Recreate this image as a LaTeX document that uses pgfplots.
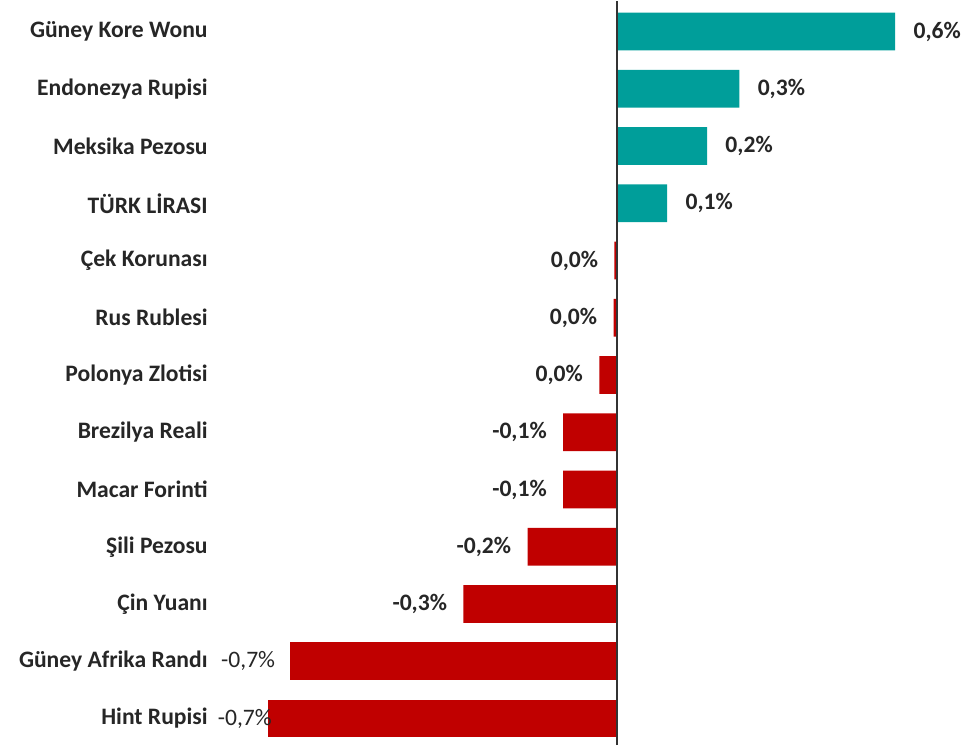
\documentclass[border=0pt]{standalone}
\usepackage{pgfplots}
\pgfplotsset{compat=1.18}
\usepackage{fontspec}
\setmainfont{Carlito}
\definecolor{tealbar}{HTML}{009E9A}
\definecolor{redbar}{HTML}{C00000}
\definecolor{txt}{HTML}{262626}
\definecolor{zline}{HTML}{333333}
\begin{document}
\begin{tikzpicture}
\path (-110pt,0pt) rectangle (379pt,372pt);
\begin{axis}[
  at={(0pt,0pt)}, anchor=south west,
  scale only axis, width=370pt, height=372pt,
  xbar, bar width=18.8pt, bar shift=0pt,
  xmin=-0.8364, xmax=0.7215,
  ymin=-0.463, ymax=12.533,
  axis line style={draw=none},
  major tick length=0pt,
  xtick=\empty,
  ytick={0,1,2,3,4,5,6,7,8,9,10,11,12},
  yticklabels={Hint Rupisi, Güney Afrika Randı, Çin Yuanı, Şili Pezosu, Macar Forinti, Brezilya Reali, Polonya Zlotisi, Rus Rublesi, Çek Korunası, TÜRK LİRASI, Meksika Pezosu, Endonezya Rupisi, Güney Kore Wonu},
  yticklabel style={font=\fontsize{11.8}{13}\selectfont\bfseries, text=txt, anchor=east, inner sep=0pt, xshift=-6pt},
  point meta=explicit symbolic,
  nodes near coords,
  clip=false,
]
\addplot[fill=tealbar, draw=none,
  nodes near coords style={anchor=west, inner sep=0pt, xshift=9pt, font=\fontsize{11.8}{13}\selectfont\bfseries, text=txt}]
  coordinates {
  (0.585,12) [0,6\%]
  (0.257,11) [0,3\%]
  (0.189,10) [0,2\%]
  (0.105,9) [0,1\%]
};
\addplot[fill=redbar, draw=none,
  nodes near coords style={anchor=east, inner sep=0pt, xshift=-8pt, font=\fontsize{11.8}{13}\selectfont\bfseries, text=txt}]
  coordinates {
  (-0.006,8) [0,0\%]
  (-0.008,7) [0,0\%]
  (-0.038,6) [0,0\%]
  (-0.114,5) [-0,1\%]
  (-0.114,4) [-0,1\%]
  (-0.189,3) [-0,2\%]
  (-0.324,2) [-0,3\%]
};
\addplot[fill=redbar, draw=none,
  nodes near coords style={anchor=east, inner sep=0pt, xshift=-7.5pt, font=\fontsize{11.8}{13}\selectfont, text=txt}]
  coordinates {
  (-0.688,1) [-0,7\%]
};
\addplot[fill=redbar, draw=none,
  nodes near coords style={anchor=east, inner sep=0pt, xshift=2pt, font=\fontsize{11.8}{13}\selectfont, text=txt}]
  coordinates {
  (-0.735,0) [-0,7\%]
};
\draw[zline, line width=1pt] (axis cs:0,-0.463) -- (axis cs:0,12.533);
\end{axis}
\end{tikzpicture}
\end{document}
